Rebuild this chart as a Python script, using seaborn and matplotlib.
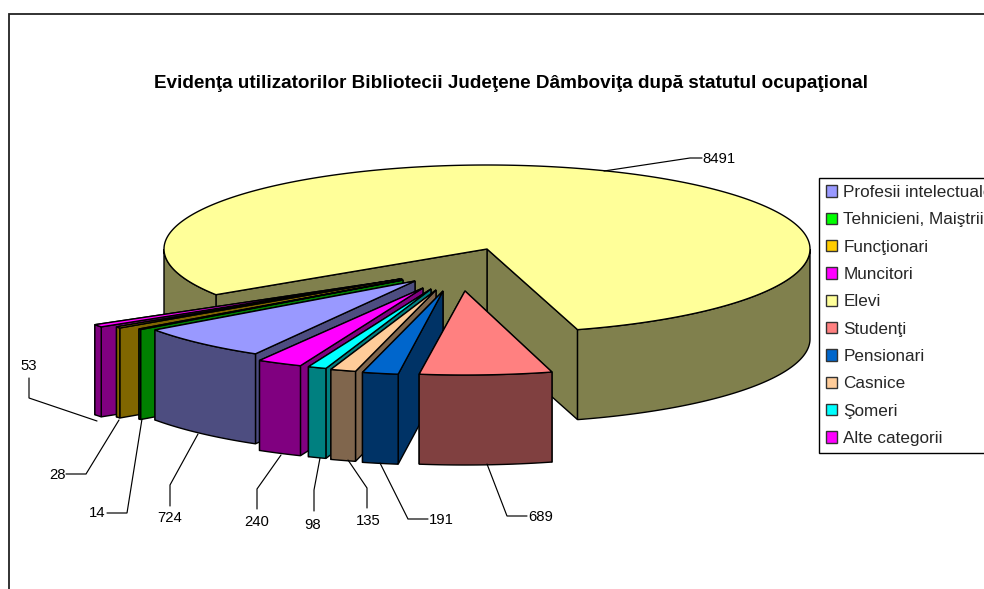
import numpy as np
import matplotlib
matplotlib.use("Agg")
import matplotlib.pyplot as plt
from matplotlib.patches import Polygon, Patch
import seaborn as sns

sns.set_theme(style="white")
plt.rcParams['font.family'] = ['Liberation Sans', 'DejaVu Sans']

# ---- data -------------------------------------------------------------
categories = ["Profesii intelectuale", "Tehnicieni, Maiştrii", "Funcţionari", "Muncitori",
              "Elevi", "Studenţi", "Pensionari", "Casnice", "Şomeri", "Alte categorii"]
values = [724, 14, 28, 53, 8491, 689, 191, 135, 98, 240]
title_text = "Evidenţa utilizatorilor Bibliotecii Judeţene Dâmboviţa după statutul ocupaţional"

# ---- styles / layout ---------------------------------------------------
top_colors = ["#9999FF", "#00FF00", "#FFCC00", "#FF00FF", "#FFFF99",
              "#FF8080", "#0066CC", "#FFCC99", "#00FFFF", "#FF00FF"]
CX, CY, RX, RY, DEPTH = 487, 249, 323, 84, 90
START_ANGLE = 119.4
explode_dx = [-72, -84, -87, -85, 0, -22, -44, -51, -56, -64]
explode_dy = [32, 31, 30, 30, 0, 42, 42, 41, 40, 39]
radius_x = [RX - 3, RX + 2, RX + 22, RX + 43, RX, RX + 7, RX, RX, RX, RX]
angle_shift = [0.5, 0, 0, 0, 0, 1, 1, 1, 1, 1]
draw_order = [4, 3, 2, 1, 0, 9, 8, 7, 6, 5]
leaders = {
    0: ((170, 518), [(170, 506), (170, 485), (198, 434)]),
    1: ((97, 513), [(107, 513), (127, 513), (142, 419)]),
    2: ((57, 475), [(66, 474), (86, 474), (119, 420)]),
    3: ((29, 366), [(29, 378), (29, 398), (97, 421)]),
    4: ((719, 159), [(604, 171), (690, 158), (702, 158)]),
    5: ((541, 517), [(527, 516), (507, 516), (487, 464)]),
    6: ((441, 520), [(428, 519), (408, 519), (380, 463)]),
    7: ((368, 521), [(367, 508), (367, 488), (348, 460)]),
    8: ((313, 525), [(314, 511), (314, 490), (320, 458)]),
    9: ((257, 522), [(257, 509), (257, 489), (281, 455)]),
}

palette = sns.color_palette(top_colors)
side_colors = [tuple(0.5 * np.array(c)) for c in palette]

fig = plt.figure(figsize=(9.84, 5.89), dpi=100, facecolor="white")
ax = fig.add_axes([0, 0, 1, 1])
ax.set_xlim(0, 984)
ax.set_ylim(589, 0)
ax.axis("off")

LW = 1.0
KW = dict(edgecolor="black", linewidth=LW, joinstyle="miter")

ax.plot([9, 9, 984], [589, 14, 14], color="#222222", lw=1.3, solid_joinstyle="miter")

fractions = np.array(values) / np.sum(values)
edges = START_ANGLE + 360 * np.concatenate([[0], np.cumsum(fractions)])


def arc(cx, cy, rx, a0, a1, n=90):
    t = np.radians(np.linspace(a0, a1, n))
    return np.column_stack([cx + rx * np.cos(t), cy + RY * np.sin(t)])


def wall(points):
    lower = points[::-1] + [0, DEPTH]
    return np.vstack([points, lower])


for i in draw_order:
    a0, a1 = edges[i] + angle_shift[i], edges[i + 1] + angle_shift[i]
    cx, cy, rx = CX + explode_dx[i], CY + explode_dy[i], radius_x[i]
    face, side = palette[i], side_colors[i]
    apex = np.array([[cx, cy]])
    rim = arc(cx, cy, rx, a0, a1, 360)
    # the two cut faces
    for p in (rim[-1], rim[0]):
        ax.add_patch(Polygon(wall(np.vstack([apex, [p]])), facecolor=side, **KW))
    # outer wall: only the front half of the rim can be seen
    for lo in (0, 360):
        s, e = max(a0, lo), min(a1, lo + 180)
        if e > s:
            ax.add_patch(Polygon(wall(arc(cx, cy, rx, s, e)), facecolor=side, **KW))
    # top face
    ax.add_patch(Polygon(np.vstack([apex, rim]), facecolor=face, **KW))

for i, (xy, path) in leaders.items():
    xs, ys = zip(*path)
    ax.plot(xs, ys, color="black", lw=0.85, solid_joinstyle="miter")
    ax.text(xy[0], xy[1], str(values[i]), ha="center", va="center",
            fontsize=10.7, color="black")

ax.text(511, 84, title_text, ha="center", va="center",
        fontsize=13.6, fontweight="bold", color="black")

handles = [Patch(facecolor=palette[i], edgecolor="#333333", linewidth=LW)
           for i in range(len(categories))]
leg = ax.legend(handles, categories, loc="upper left", bbox_to_anchor=(819, 178),
                bbox_transform=ax.transData, frameon=True, fancybox=False,
                edgecolor="black", framealpha=1, fontsize=12.3,
                handlelength=0.65, handleheight=0.65, handletextpad=0.36,
                labelspacing=0.72, borderpad=0.42, borderaxespad=0)
leg.get_frame().set_linewidth(LW)

fig.savefig("out.png", dpi=100)
